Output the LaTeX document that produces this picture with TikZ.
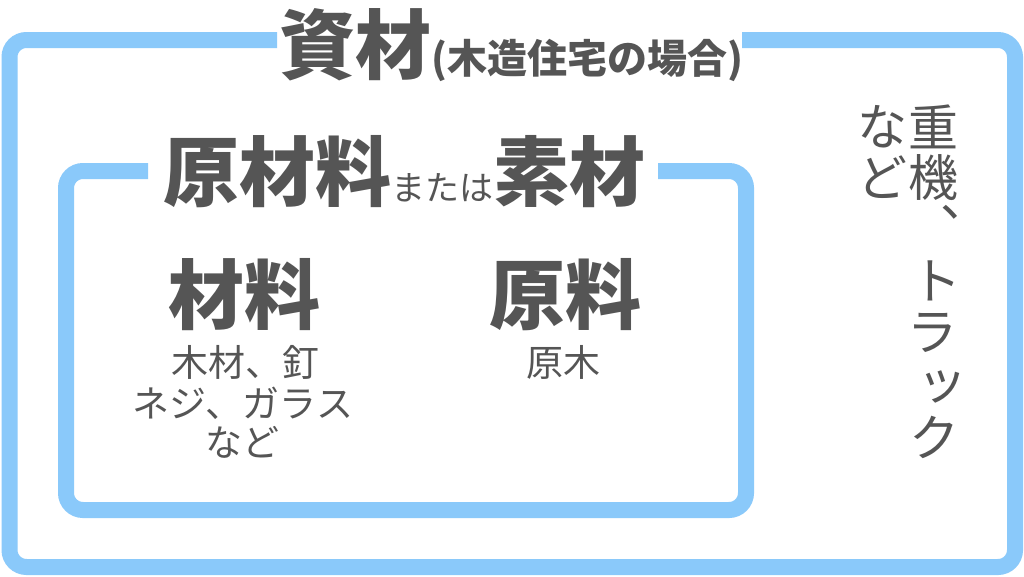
\documentclass[tikz,border=0pt]{standalone}
\usepackage{fontspec}
\setmainfont{Noto Sans CJK JP}
\newfontfamily\jp{Noto Sans CJK JP}
\definecolor{frameblue}{RGB}{138,201,250}
\definecolor{txtgrey}{RGB}{85,85,85}
\tikzset{
  frame/.style={draw=frameblue, line width=16pt, rounded corners=17pt, line cap=butt},
  txt/.style={inner sep=0pt, outer sep=0pt, text=txtgrey, font=\jp},
  big/.style={txt, font=\jp\bfseries\fontsize{76}{76}\selectfont},
  small/.style={txt, font=\jp\fontsize{37}{37}\selectfont},
  vert/.style={txt, font=\jp\fontsize{50}{50}\selectfont},
}
\begin{document}
\begin{tikzpicture}[x=1pt,y=-1pt]
\useasboundingbox[fill=white] (0,0) rectangle (1024,576);
% outer frame
\coordinate (o1) at (277,40);
\coordinate (o2) at (742,40);
\draw[frame] (o1) -- (9.5,40) -- (9.5,567) -- (1015,567) -- (1015,40) -- (o2);
% inner frame
\coordinate (i1) at (148,171);
\coordinate (i2) at (658,171);
\draw[frame] (i1) -- (66,171) -- (66,510) -- (746,510) -- (746,171) -- (i2);
% titles
\node[big] (title) at (511,45) {資材{\fontsize{40}{40}\selectfont (木造住宅の場合)}};
\node[big] (sub) at (404,171.5) {原材料{\mdseries\fontsize{34}{34}\selectfont または}素材};
\node[big] (zairyo) at (244,295) {材料};
\node[big] (genryo) at (565,295) {原料};
\node[small] (l1) at (245,362) {木材、釘};
\node[small] (l2) at (243,403) {ネジ、ガラス};
\node[small] (l3) at (242,442) {など};
\node[small] (genboku) at (563,362) {原木};
% vertical text
\node[vert] (v1) at (933,127) {重};
\node[vert] (v2) at (933,178) {機};
\node[vert] (v3) at (965,212) {、};
\node[vert] (v4) at (936,281) {ト};
\node[vert] (v5) at (932,333) {ラ};
\node[vert] (v6) at (942,387) {ッ};
\node[vert] (v7) at (934,437) {ク};
\node[vert] (n1) at (882,127) {な};
\node[vert] (n2) at (882,177) {ど};
\end{tikzpicture}
\end{document}
